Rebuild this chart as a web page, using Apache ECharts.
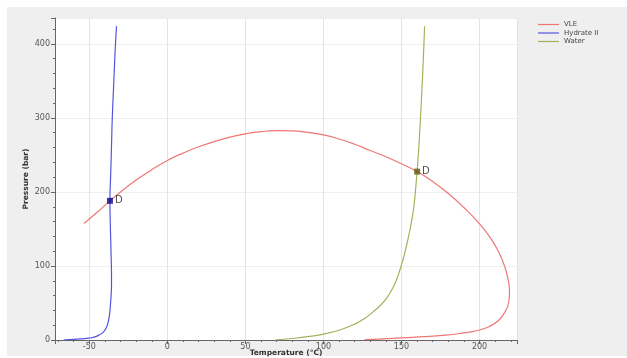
<!DOCTYPE html>
<html>
<head>
<meta charset="utf-8">
<script src="https://cdn.jsdelivr.net/npm/echarts@6/dist/echarts.min.js"></script>
<style>
  html, body { margin: 0; padding: 0; background: #fff; }
  #main { width: 627px; height: 358px; }
</style>
</head>
<body>
<div id="main"></div>
<script>
// series names
var seriesNames = ['VLE', 'Hydrate II', 'Water'];

// [temperature °C, pressure bar]
var vleData = [
    [-53.4, 157.5], [-45, 172.5], [-36.8, 188], [-30, 200], [-20, 216], [-10, 230],
    [0, 242.5], [10, 252.5], [20, 261], [30, 268], [40, 274], [50, 278.5],
    [60, 281.5], [70, 282.8], [80, 282.5], [90, 280.5], [100, 277], [110, 271.5],
    [120, 264.5], [130, 256], [140, 247.5], [150, 238], [160, 227.5], [170, 214],
    [180, 198], [190, 179], [200, 157], [207, 138], [212, 120], [216, 100],
    [218.5, 80], [219.2, 65], [218.6, 50], [216, 37], [212, 26], [206, 18],
    [198, 12.5], [188, 9], [178, 6.5], [165, 4.5], [150, 3], [138, 1.5], [126.4, 0.6]
];

var hydrateData = [
    [-66.5, 0], [-60, 0.8], [-55, 1.6], [-50.3, 2.5], [-46.5, 4.2], [-43.9, 6.6],
    [-41.6, 9.6], [-39.8, 14], [-38.5, 20], [-37.6, 27.5], [-36.9, 37],
    [-36.4, 50], [-36.0, 62], [-35.8, 75], [-35.8, 90], [-36.0, 110],
    [-36.3, 135], [-36.6, 160], [-36.8, 188], [-36.3, 225], [-35.8, 262],
    [-35.3, 300], [-34.5, 340], [-33.6, 385], [-32.6, 424]
];

var waterData = [
    [69, 0], [80, 2], [90, 4.5], [100, 8], [110.5, 13.5], [121, 22.5], [127, 30],
    [131.8, 38], [136.5, 47], [140.3, 56], [143.3, 66], [145.7, 76], [147.6, 86],
    [149.2, 96], [150.9, 108], [152.5, 121], [154, 135], [155.8, 153],
    [157.3, 171], [158.3, 187], [159, 203], [160, 227.5], [161, 257],
    [161.9, 290], [163, 335], [164, 380], [164.8, 424]
];

// quadruple points
var hydrateD = [[-36.8, 188]];
var waterD = [[160, 227.5]];

var chart = echarts.init(document.getElementById('main'));

var axisFont = { fontFamily: 'DejaVu Sans', fontSize: 8, color: '#555' };

chart.setOption({
    backgroundColor: '#fff',
    animation: false,
    graphic: [
        {
            type: 'rect',
            z: -100,
            shape: { x: 7, y: 7, width: 620, height: 349 },
            style: { fill: '#efefef' },
            silent: true
        }
    ],
    legend: {
        data: seriesNames,
        orient: 'vertical',
        left: 533,
        top: 16,
        itemWidth: 21,
        itemHeight: 1.2,
        itemGap: 1.5,
        icon: 'rect',
        textStyle: { fontFamily: 'DejaVu Sans', fontSize: 7, color: '#444' }
    },
    grid: {
        left: 55,
        top: 18,
        right: 110,
        bottom: 18,
        outerBoundsMode: 'none',
        containLabel: false,
        show: true,
        backgroundColor: '#fff',
        borderWidth: 0
    },
    xAxis: {
        type: 'value',
        min: -72,
        max: 224,
        splitNumber: 5,
        name: 'Temperature (°C)',
        nameLocation: 'middle',
        nameGap: 9,
        nameMoveOverlap: false,
        nameTextStyle: { fontFamily: 'DejaVu Sans', fontSize: 7.5, fontWeight: 'bold', color: '#333' },
        axisLine: { onZero: false, lineStyle: { color: '#666' } },
        axisTick: { length: 4, lineStyle: { color: '#666' } },
        minorTick: { show: true, splitNumber: 5, length: 2, lineStyle: { color: '#666' } },
        axisLabel: Object.assign({ margin: 3, showMinLabel: false, showMaxLabel: false }, axisFont),
        splitLine: { show: true, lineStyle: { color: '#e4e4e4' } }
    },
    yAxis: {
        type: 'value',
        min: 0,
        max: 435,
        interval: 100,
        name: 'Pressure (bar)',
        nameLocation: 'middle',
        nameGap: 25,
        nameMoveOverlap: false,
        nameTextStyle: { fontFamily: 'DejaVu Sans', fontSize: 7.5, fontWeight: 'bold', color: '#333' },
        axisLine: { show: true, onZero: false, lineStyle: { color: '#666' } },
        axisTick: { show: true, length: 4, lineStyle: { color: '#666' } },
        minorTick: { show: true, splitNumber: 5, length: 2, lineStyle: { color: '#666' } },
        axisLabel: Object.assign({ margin: 5, showMaxLabel: false }, axisFont),
        splitLine: { show: true, lineStyle: { color: '#efefef' } }
    },
    series: [
        {
            name: 'VLE',
            type: 'line',
            data: vleData,
            smooth: 0.5,
            showSymbol: false,
            lineStyle: { color: '#f07676', width: 1.2 },
            itemStyle: { color: '#f07676' }
        },
        {
            name: 'Hydrate II',
            type: 'line',
            data: hydrateData,
            smooth: 0.5,
            showSymbol: false,
            lineStyle: { color: '#5555e0', width: 1.2 },
            itemStyle: { color: '#5555e0' }
        },
        {
            name: 'Water',
            type: 'line',
            data: waterData,
            smooth: 0.5,
            showSymbol: false,
            lineStyle: { color: '#a4b25c', width: 1.2 },
            itemStyle: { color: '#a4b25c' }
        },
        {
            name: 'D-hydrate',
            type: 'scatter',
            data: hydrateD,
            symbol: 'rect',
            symbolSize: 6,
            z: 5,
            itemStyle: { color: '#0a0a8a' },
            label: { show: true, position: 'right', distance: 2, formatter: 'D',
                fontFamily: 'DejaVu Sans', fontSize: 10, color: '#222' }
        },
        {
            name: 'D-water',
            type: 'scatter',
            data: waterD,
            symbol: 'rect',
            symbolSize: 6,
            z: 5,
            itemStyle: { color: '#5a5a10' },
            label: { show: true, position: 'right', distance: 2, formatter: 'D',
                fontFamily: 'DejaVu Sans', fontSize: 10, color: '#222' }
        }
    ]
});
</script>
</body>
</html>
